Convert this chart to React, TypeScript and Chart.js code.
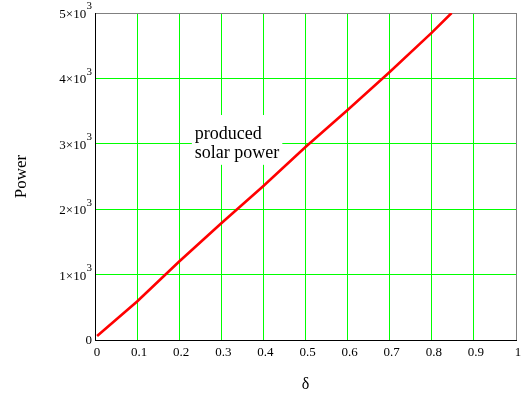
import React, { useEffect, useRef } from 'react';
import { Chart, registerables } from 'chart.js';

Chart.register(...registerables);

// ---- data ----
const DELTA = [0.005, 0.1, 0.2, 0.3, 0.4, 0.5, 0.6, 0.7, 0.8, 0.847];
const POWER = [60, 590, 1200, 1784, 2355, 2950, 3517, 4098, 4700, 5000];

const X_MIN = 0;
const X_MAX = 1;
const X_STEP = 0.1;
const Y_MIN = 0;
const Y_MAX = 5000;
const Y_STEP = 1000;
const Y_EXPONENT = '3';

const X_TITLE = 'δ';
const Y_TITLE = 'Power';
const ANNOTATION_LINES = ['produced', 'solar power'];
const ANNOTATION_AT = { x: 0.23, y: 3440 }; // top-left of the label box (data units)

// ---- styles ----
const SERIF = "'Liberation Serif', 'Times New Roman', serif";
const GREEN = '#00ff00';
const FRAME_GRAY = '#808080';
const LINE_RED = '#ff0000';
const NONE = 'rgba(0,0,0,0)';

const xTickCount = Math.round((X_MAX - X_MIN) / X_STEP) + 1;
const yTickCount = Math.round((Y_MAX - Y_MIN) / Y_STEP) + 1;
const gridColors = (n: number) =>
  Array.from({ length: n }, (_, i) => (i === 0 ? NONE : i === n - 1 ? FRAME_GRAY : GREEN));

const customDraw = {
  id: 'customDraw',
  beforeDatasetsDraw(chart: any) {
    const { ctx, scales } = chart;
    const x0 = scales.x.getPixelForValue(ANNOTATION_AT.x);
    const y0 = scales.y.getPixelForValue(ANNOTATION_AT.y);
    ctx.save();
    ctx.font = `18px ${SERIF}`;
    const w = Math.max(...ANNOTATION_LINES.map((t) => ctx.measureText(t).width)) + 6;
    const lineH = 18.4;
    ctx.fillStyle = '#fff';
    ctx.fillRect(x0, y0, w, lineH * ANNOTATION_LINES.length + 13);
    ctx.fillStyle = '#000';
    ctx.textAlign = 'left';
    ctx.textBaseline = 'alphabetic';
    ANNOTATION_LINES.forEach((t, i) => {
      ctx.fillText(t, x0 + 3, y0 + 24.3 + i * lineH);
    });
    ctx.restore();
  },
  afterDraw(chart: any) {
    const { ctx, scales } = chart;
    const ys = scales.y;
    const right = ys.right - 3;
    ctx.save();
    ctx.fillStyle = '#000';
    ys.ticks.forEach((tk: any) => {
      const v = tk.value;
      const y = ys.getPixelForValue(v);
      if (v === 0) {
        ctx.font = `13px ${SERIF}`;
        ctx.textAlign = 'right';
        ctx.textBaseline = 'middle';
        ctx.fillText('0', right, y + 1);
        return;
      }
      ctx.font = `11px ${SERIF}`;
      const supW = ctx.measureText(Y_EXPONENT).width;
      ctx.textAlign = 'left';
      ctx.textBaseline = 'middle';
      ctx.fillText(Y_EXPONENT, right - supW, y - 6.5);
      ctx.font = `13px ${SERIF}`;
      ctx.textAlign = 'right';
      ctx.fillText(`${v / 1000}×10`, right - supW - 0.3, y + 1.5);
    });
    ctx.restore();
  },
};

export default function App() {
  const ref = useRef<HTMLCanvasElement>(null);

  useEffect(() => {
    if (!ref.current) return;
    const points = DELTA.map((d, i) => ({ x: d, y: POWER[i] }));
    const chart = new Chart(ref.current, {
      type: 'line',
      data: {
        datasets: [
          {
            data: points,
            borderColor: LINE_RED,
            backgroundColor: LINE_RED,
            borderWidth: 2.6,
            pointRadius: 0,
            tension: 0,
            fill: false,
          },
        ],
      },
      options: {
        animation: false,
        responsive: true,
        maintainAspectRatio: false,
        devicePixelRatio: 1,
        layout: { padding: { left: 0, top: 13, right: 12, bottom: 0 } },
        plugins: {
          legend: { display: false },
          tooltip: { enabled: false },
        },
        scales: {
          x: {
            type: 'linear',
            min: X_MIN,
            max: X_MAX,
            afterFit: (s: any) => {
              s.height = 56;
            },
            ticks: {
              stepSize: X_STEP,
              padding: 5,
              labelOffset: 2,
              color: '#000',
              font: { family: SERIF, size: 13 },
              callback: (v: any) => String(Math.round(Number(v) * 10) / 10),
            },
            grid: {
              drawTicks: false,
              lineWidth: 1,
              color: gridColors(xTickCount),
            },
            border: { color: '#000', width: 1 },
            title: {
              display: true,
              text: X_TITLE,
              color: '#000',
              font: { family: SERIF, size: 16 },
              padding: { top: 0, bottom: 2 },
            },
          },
          y: {
            type: 'linear',
            min: Y_MIN,
            max: Y_MAX,
            afterFit: (s: any) => {
              s.width = 95;
            },
            ticks: {
              stepSize: Y_STEP,
              display: false,
            },
            grid: {
              drawTicks: false,
              lineWidth: 1,
              color: gridColors(yTickCount),
            },
            border: { color: '#000', width: 1 },
            title: {
              display: true,
              text: Y_TITLE,
              color: '#000',
              font: { family: SERIF, size: 17 },
              padding: { top: 11, bottom: 0 },
            },
          },
        },
      },
      plugins: [customDraw],
    });
    return () => chart.destroy();
  }, []);

  return (
    <div
      style={{
        position: 'fixed',
        left: 0,
        top: 0,
        width: 528,
        height: 396,
        background: '#fff',
      }}
    >
      <canvas ref={ref} />
    </div>
  );
}
